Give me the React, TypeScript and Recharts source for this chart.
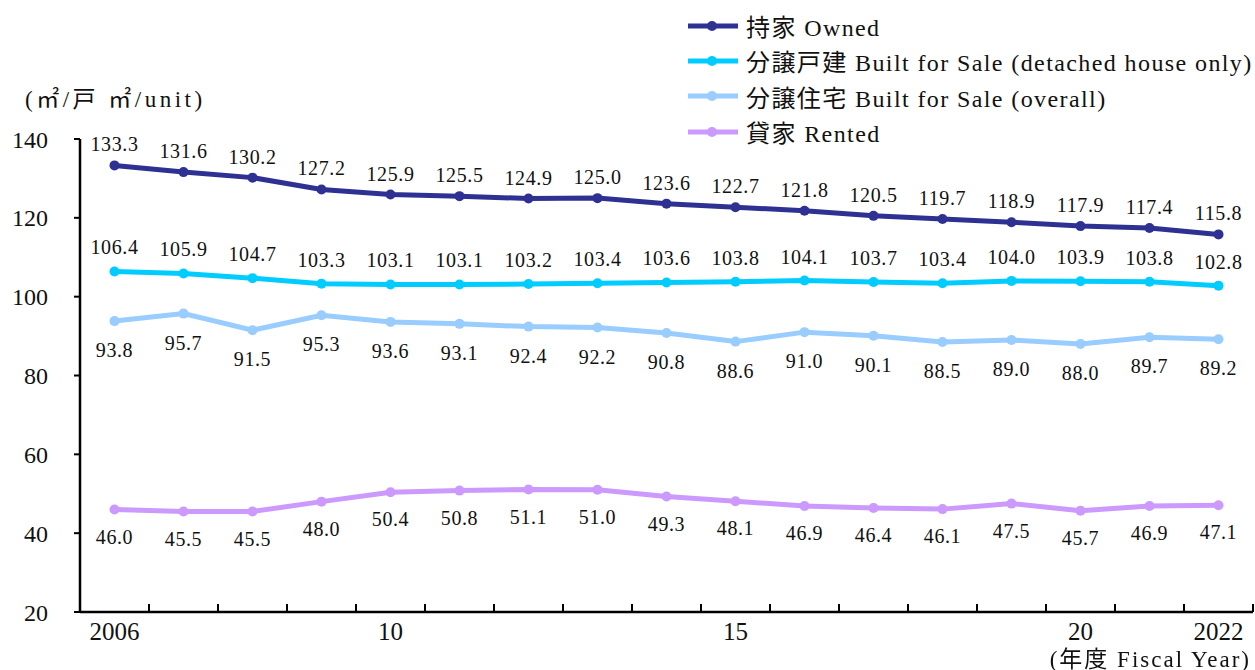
import React from "react"
import { LabelList, Line, LineChart, XAxis, YAxis } from "recharts"

const years = [2006, 2007, 2008, 2009, 2010, 2011, 2012, 2013, 2014, 2015, 2016, 2017, 2018, 2019, 2020, 2021, 2022]
const owned = [133.3, 131.6, 130.2, 127.2, 125.9, 125.5, 124.9, 125.0, 123.6, 122.7, 121.8, 120.5, 119.7, 118.9, 117.9, 117.4, 115.8]
const detached = [106.4, 105.9, 104.7, 103.3, 103.1, 103.1, 103.2, 103.4, 103.6, 103.8, 104.1, 103.7, 103.4, 104.0, 103.9, 103.8, 102.8]
const overall = [93.8, 95.7, 91.5, 95.3, 93.6, 93.1, 92.4, 92.2, 90.8, 88.6, 91.0, 90.1, 88.5, 89.0, 88.0, 89.7, 89.2]
const rented = [46.0, 45.5, 45.5, 48.0, 50.4, 50.8, 51.1, 51.0, 49.3, 48.1, 46.9, 46.4, 46.1, 47.5, 45.7, 46.9, 47.1]

const xLabelText: Record<number, string> = { 2006: "2006", 2010: "10", 2015: "15", 2020: "20", 2022: "2022" }
const xLabelTicks = [2006, 2010, 2015, 2020, 2022]
// tick marks sit between the years
const minorTicks = years.map((y) => y + 0.5)
const xTicks = [...minorTicks, ...xLabelTicks].sort((a, b) => a - b)
const yTicks = [20, 40, 60, 80, 100, 120, 140]

const seriesInfo = [
  { key: "owned", name: "持家 Owned", color: "#2E3192", pos: "top", offset: 14 },
  { key: "detached", name: "分譲戸建 Built for Sale (detached house only)", color: "#00CCFF", pos: "top", offset: 17 },
  { key: "overall", name: "分譲住宅 Built for Sale (overall)", color: "#99CCFF", pos: "bottom", offset: 22 },
  { key: "rented", name: "貸家 Rented", color: "#CC99FF", pos: "bottom", offset: 20 },
]

const data = years.map((year, i) => ({
  year,
  owned: owned[i],
  detached: detached[i],
  overall: overall[i],
  rented: rented[i],
}))

const font = '"Liberation Serif", "Noto Sans CJK JP", serif'
const ink = "#111"

function XTick(props: any) {
  const { x, y, payload } = props
  const v = payload.value as number
  if (v % 1 !== 0) {
    return <line x1={x} y1={y} x2={x} y2={y - 8} stroke="#000" strokeWidth={2} />
  }
  return (
    <text x={x} y={y + 22} textAnchor="middle" dominantBaseline="middle" fill={ink} fontSize={25} fontFamily={font}>
      {xLabelText[v]}
    </text>
  )
}

function LegendBox() {
  return (
    <div style={{ position: "absolute", left: 688, top: 8, fontFamily: font, fontSize: 24, color: ink, letterSpacing: 1.4 }}>
      {seriesInfo.map((s) => (
        <div key={s.key} style={{ display: "flex", alignItems: "center", height: 35.3 }}>
          <svg width={58} height={14} style={{ flex: "none" }}>
            <line x1={0} y1={7} x2={50} y2={7} stroke={s.color} strokeWidth={5} />
            <circle cx={24} cy={7} r={5} fill={s.color} />
          </svg>
          <span style={{ whiteSpace: "nowrap" }}>{s.name}</span>
        </div>
      ))}
    </div>
  )
}

export default function App() {
  return (
    <div style={{ position: "fixed", left: 0, top: 0, width: 1255, height: 670, background: "#fff", fontFamily: font }}>
      <LineChart width={1255} height={670} data={data} margin={{ top: 139, right: 2, left: 0, bottom: 0 }}>
        <XAxis
          dataKey="year"
          type="number"
          domain={[2005.5, 2022.5]}
          ticks={xTicks}
          interval={0}
          tick={<XTick />}
          axisLine={{ stroke: "#000", strokeWidth: 2.5 }}
          tickLine={false}
          tickSize={0}
          tickMargin={0}
          height={58}
          allowDataOverflow
        />
        <YAxis
          domain={[20, 140]}
          ticks={yTicks}
          width={80}
          interval={0}
          axisLine={{ stroke: "#000", strokeWidth: 2.5 }}
          tickLine={{ stroke: "#000", strokeWidth: 2 }}
          tickSize={6}
          tickMargin={26}
          tick={{ fill: ink, fontSize: 24, fontFamily: font }}
          allowDataOverflow
        />
        {seriesInfo.map((s) => (
          <Line
            key={s.key}
            dataKey={s.key}
            name={s.name}
            stroke={s.color}
            strokeWidth={5}
            dot={{ r: 5, fill: s.color, stroke: s.color, strokeWidth: 0 }}
            activeDot={false}
            isAnimationActive={false}
          >
            <LabelList
              dataKey={s.key}
              position={s.pos as "top" | "bottom"}
              offset={s.offset}
              formatter={(v: number) => v.toFixed(1)}
              style={{ fill: ink, fontSize: 20, fontFamily: font, letterSpacing: 0.6 }}
            />
          </Line>
        ))}
      </LineChart>
      <LegendBox />
      <div style={{ position: "absolute", left: 25, top: 88, fontSize: 23, lineHeight: "24px", color: ink, whiteSpace: "nowrap", letterSpacing: 3.5 }}>
        (㎡/戸 ㎡/unit)
      </div>
      <div style={{ position: "absolute", right: 4, top: 648, fontSize: 23, lineHeight: "24px", color: ink, whiteSpace: "nowrap", letterSpacing: 2 }}>
        (年度 Fiscal Year)
      </div>
    </div>
  )
}
